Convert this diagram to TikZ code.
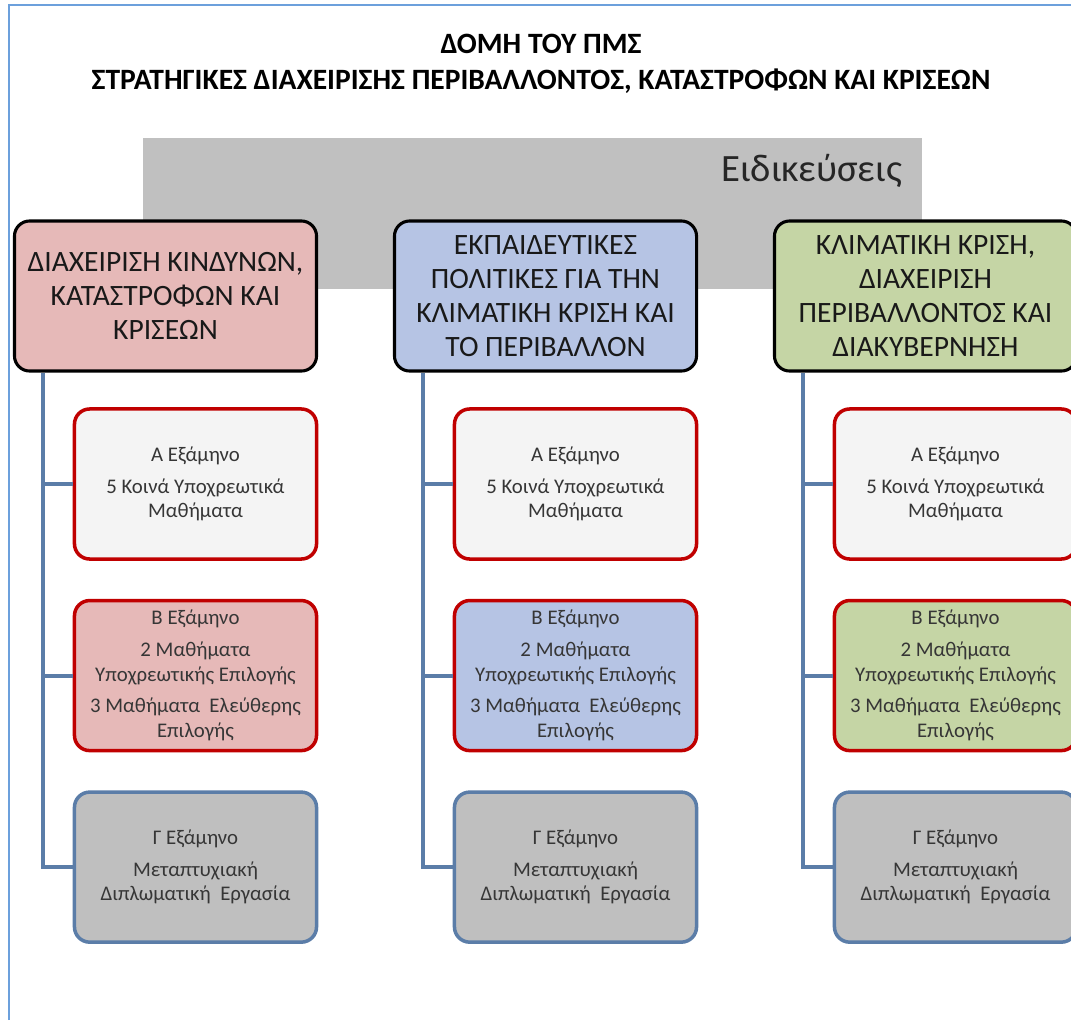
\documentclass[tikz,border=0pt]{standalone}
\usepackage{fontspec}
\setmainfont{Carlito}
\usetikzlibrary{positioning}
\definecolor{framebl}{HTML}{6CA0DC}
\definecolor{bandgr}{HTML}{C0C0C0}
\definecolor{pinkf}{HTML}{E6B9B8}
\definecolor{bluef}{HTML}{B6C4E4}
\definecolor{greenf}{HTML}{C5D5A5}
\definecolor{palef}{HTML}{F4F4F4}
\definecolor{greyf}{HTML}{BFBFBF}
\definecolor{redln}{HTML}{C00000}
\definecolor{steel}{HTML}{5B7DA8}
\definecolor{txt}{HTML}{363636}
\tikzset{
  head/.style={draw=black, line width=2.2pt, rounded corners=0.38cm,
    minimum width=7.55cm, minimum height=3.75cm, align=center,
    text=black!90, font=\fontsize{21}{24}\selectfont},
  sem/.style={line width=2.5pt, rounded corners=0.38cm,
    minimum width=6.05cm, minimum height=3.75cm, align=center,
    text=txt, font=\fontsize{14.8}{17.5}\selectfont},
  semred/.style={sem, draw=redln},
  semgrey/.style={sem, draw=steel, fill=greyf},
  trunk/.style={draw=steel, line width=2.8pt}
}
\begin{document}
\begin{tikzpicture}[x=0.025cm,y=-0.025cm]
  \useasboundingbox (0,0) rectangle (1071,1020);
  \clip (0,0) rectangle (1071,1020);
  \draw[framebl, line width=1.4pt] (9,1020) -- (9,5) -- (1071,5);
  \node[align=center, font=\bfseries\fontsize{21}{26}\selectfont] (ttl) at (541,64)
    {ΔΟΜΗ ΤΟΥ ΠΜΣ\\ΣΤΡΑΤΗΓΙΚΕΣ ΔΙΑΧΕΙΡΙΣΗΣ ΠΕΡΙΒΑΛΛΟΝΤΟΣ, ΚΑΤΑΣΤΡΟΦΩΝ ΚΑΙ ΚΡΙΣΕΩΝ};
  \fill[bandgr] (143,138) rectangle (922,289);
  \node[anchor=base east, text=black!85, font=\fontsize{27.5}{30}\selectfont] (spec) at (907,181) {Ειδικεύσεις};

  \node[head, fill=pinkf] (h1) at (165.5,296) {ΔΙΑΧΕΙΡΙΣΗ ΚΙΝΔΥΝΩΝ,\\ΚΑΤΑΣΤΡΟΦΩΝ ΚΑΙ\\ΚΡΙΣΕΩΝ};
  \node[head, fill=bluef] (h2) at (545.5,296) {ΕΚΠΑΙΔΕΥΤΙΚΕΣ\\ΠΟΛΙΤΙΚΕΣ ΓΙΑ ΤΗΝ\\ΚΛΙΜΑΤΙΚΗ ΚΡΙΣΗ ΚΑΙ\\ΤΟ ΠΕΡΙΒΑΛΛΟΝ};
  \node[head, fill=greenf] (h3) at (925.5,296) {ΚΛΙΜΑΤΙΚΗ ΚΡΙΣΗ,\\ΔΙΑΧΕΙΡΙΣΗ\\ΠΕΡΙΒΑΛΛΟΝΤΟΣ ΚΑΙ\\ΔΙΑΚΥΒΕΡΝΗΣΗ};

  \node[semred, fill=palef] (a1) at (195.5,484) {Α Εξάμηνο\\[5pt]5 Κοινά Υποχρεωτικά\\Μαθήματα};
  \node[semred, fill=pinkf, below=0.95cm of a1] (b1) {Β Εξάμηνο\\[5pt]2 Μαθήματα\\Υποχρεωτικής Επιλογής\\[5pt]3 Μαθήματα\ \ Ελεύθερης\\Επιλογής};
  \node[semgrey, below=0.95cm of b1] (g1) {Γ Εξάμηνο\\[5pt]Μεταπτυχιακή\\Διπλωματική\ \ Εργασία};

  \node[semred, fill=palef] (a2) at (575.5,484) {Α Εξάμηνο\\[5pt]5 Κοινά Υποχρεωτικά\\Μαθήματα};
  \node[semred, fill=bluef, below=0.95cm of a2] (b2) {Β Εξάμηνο\\[5pt]2 Μαθήματα\\Υποχρεωτικής Επιλογής\\[5pt]3 Μαθήματα\ \ Ελεύθερης\\Επιλογής};
  \node[semgrey, below=0.95cm of b2] (g2) {Γ Εξάμηνο\\[5pt]Μεταπτυχιακή\\Διπλωματική\ \ Εργασία};

  \node[semred, fill=palef] (a3) at (955.5,484) {Α Εξάμηνο\\[5pt]5 Κοινά Υποχρεωτικά\\Μαθήματα};
  \node[semred, fill=greenf, below=0.95cm of a3] (b3) {Β Εξάμηνο\\[5pt]2 Μαθήματα\\Υποχρεωτικής Επιλογής\\[5pt]3 Μαθήματα\ \ Ελεύθερης\\Επιλογής};
  \node[semgrey, below=0.95cm of b3] (g3) {Γ Εξάμηνο\\[5pt]Μεταπτυχιακή\\Διπλωματική\ \ Εργασία};

  \coordinate (k1) at ([xshift=-0.75cm]a1.west);
  \coordinate (k2) at ([xshift=-0.75cm]a2.west);
  \coordinate (k3) at ([xshift=-0.75cm]a3.west);
  \draw[trunk] (k1 |- h1.south) |- (g1.west);
  \draw[trunk] (k1) -- (a1.west);
  \draw[trunk] (k1 |- b1.west) -- (b1.west);
  \draw[trunk] (k2 |- h2.south) |- (g2.west);
  \draw[trunk] (k2) -- (a2.west);
  \draw[trunk] (k2 |- b2.west) -- (b2.west);
  \draw[trunk] (k3 |- h3.south) |- (g3.west);
  \draw[trunk] (k3) -- (a3.west);
  \draw[trunk] (k3 |- b3.west) -- (b3.west);
\end{tikzpicture}
\end{document}
